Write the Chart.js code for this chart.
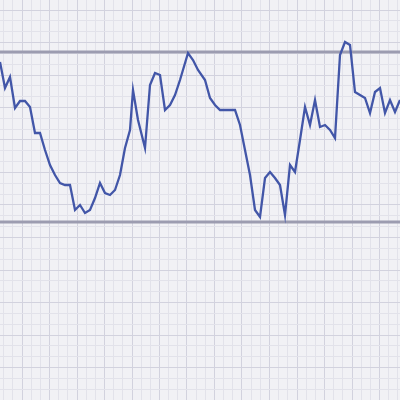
<!DOCTYPE html>
<html>
<head>
<script src="https://cdn.jsdelivr.net/npm/chart.js@4"></script>
<style>
  html, body { margin: 0; padding: 0; background: #f1f1f5; }
  #wrap { width: 400px; height: 400px; }
</style>
</head>
<body>
<div id="wrap"><canvas id="chart"></canvas></div>
<script>
// position along the series and the value (higher = up)
const xs = [0, 5, 10, 15, 20, 25, 30, 35, 40, 45, 50, 55, 60, 65, 70, 75, 80, 85, 90, 95,
  100, 105, 110, 115, 120, 125, 130, 133, 138, 145, 150, 155, 160, 165, 170, 175, 180, 188, 193, 198,
  205, 210, 215, 220, 225, 230, 235, 240, 245, 250, 255, 260, 265, 270, 275, 280, 285, 290, 295, 300,
  305, 310, 315, 320, 325, 330, 335, 340, 345, 350, 355, 360, 365, 370, 375, 380, 385, 390, 395, 400];
const values = [338, 312, 323, 292, 299, 299, 293, 267, 267, 250, 235, 225, 217, 215, 215, 190, 195, 187, 190, 202,
  217, 207, 205, 210, 225, 252, 270, 310, 280, 252, 315, 327, 325, 290, 295, 305, 320, 347, 340, 330,
  320, 302, 295, 290, 290, 290, 290, 275, 250, 225, 190, 183, 222, 228, 222, 215, 185, 235, 228, 260,
  293, 275, 300, 273, 275, 270, 262, 345, 358, 355, 308, 305, 302, 287, 308, 312, 287, 300, 288, 300];
const upperLevel = 348;
const lowerLevel = 178;

const points = xs.map((x, i) => ({ x, y: values[i] }));

function gridTicks(start, step, from, to) {
  const t = [];
  for (let v = start; v <= to; v += step) if (v >= from) t.push({ value: v, major: Math.round((v - start) / step) % 3 === 0 });
  return t;
}

new Chart(document.getElementById("chart"), {
  type: "line",
  data: {
    datasets: [
      {
        data: points,
        borderColor: "#4256a8",
        borderWidth: 2.3,
        pointRadius: 0,
        tension: 0,
      },
      {
        data: [{ x: 0, y: upperLevel }, { x: 400, y: upperLevel }],
        borderColor: "#9c9cb0",
        borderWidth: 3,
        pointRadius: 0,
      },
      {
        data: [{ x: 0, y: lowerLevel }, { x: 400, y: lowerLevel }],
        borderColor: "#9c9cb0",
        borderWidth: 3,
        pointRadius: 0,
      },
    ],
  },
  options: {
    responsive: true,
    maintainAspectRatio: false,
    animation: false,
    layout: { padding: 0 },
    plugins: { legend: { display: false }, tooltip: { enabled: false } },
    scales: {
      x: {
        type: "linear",
        min: 0,
        max: 400,
        afterBuildTicks: (axis) => { axis.ticks = gridTicks(22 - 27.5, 27.5 / 3, 0, 400); },
        ticks: { display: false },
        border: { display: false },
        grid: {
          drawTicks: false,
          color: (c) => (c.tick && c.tick.major ? "#d2d2de" : "#e2e2ea"),
        },
      },
      y: {
        min: 0,
        max: 400,
        afterBuildTicks: (axis) => { axis.ticks = gridTicks(390 - 32.5 * 12, 32.5 / 3, 0, 400); },
        ticks: { display: false },
        border: { display: false },
        grid: {
          drawTicks: false,
          color: (c) => (c.tick && c.tick.major ? "#d2d2de" : "#e2e2ea"),
        },
      },
    },
  },
});
</script>
</body>
</html>
